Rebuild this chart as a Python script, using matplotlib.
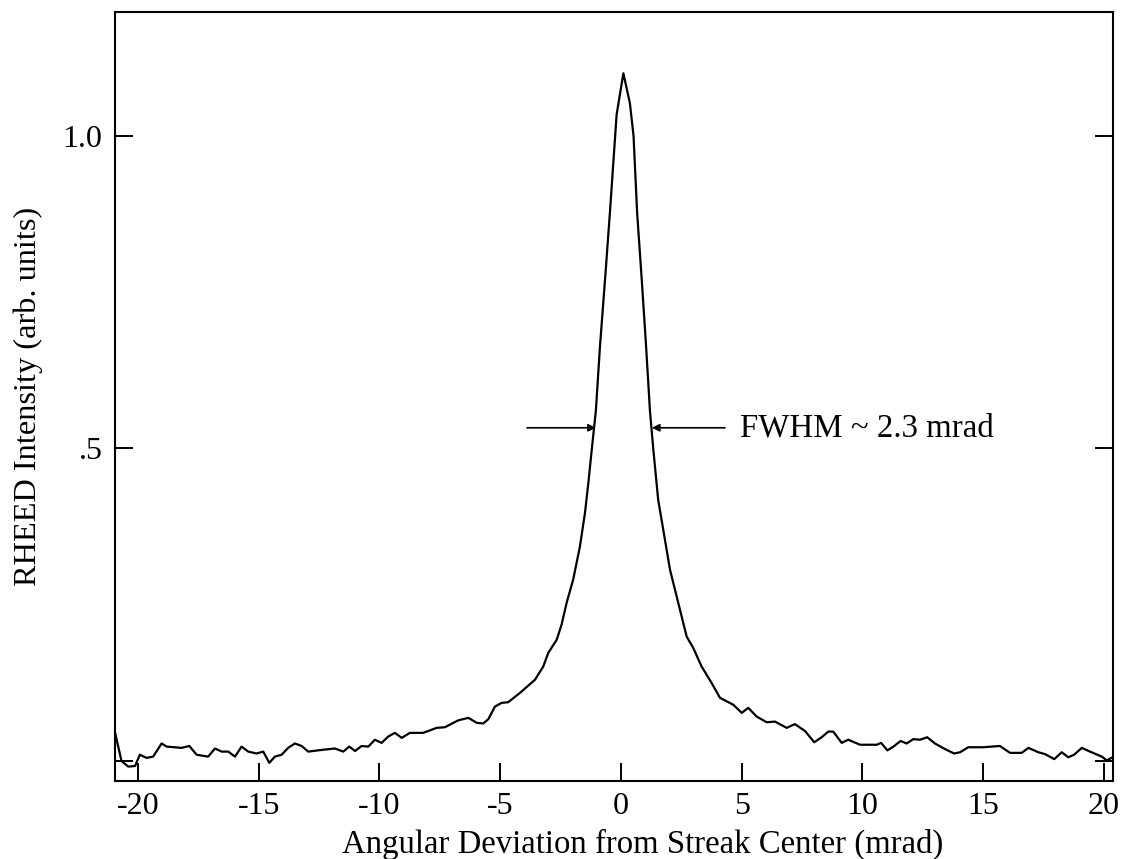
import matplotlib
matplotlib.use("Agg")
from matplotlib import pyplot as plt

# RHEED streak profile
angle = [-20.95, -20.68, -20.40, -20.12, -19.92, -19.64, -19.37, -19.02, -18.81, -18.19,
         -17.87, -17.57, -17.09, -16.81, -16.53, -16.26, -15.98, -15.71, -15.43, -15.09,
         -14.81, -14.56, -14.33, -14.05, -13.78, -13.50, -13.22, -12.95, -12.33, -11.84,
         -11.50, -11.25, -11.01, -10.74, -10.46, -10.19, -9.91, -9.64, -9.36, -9.08,
         -8.74, -8.19, -7.63, -7.29, -6.74, -6.32, -5.97, -5.70, -5.49, -5.22,
         -4.94, -4.67, -4.18, -3.56, -3.22, -3.01, -2.66, -2.46, -2.25, -1.98,
         -1.70, -1.49, -1.35, -1.21, -1.04, -0.87, -0.66, -0.46, -0.25, -0.18,
         0.10, 0.37, 0.52, 0.67, 0.86, 1.04, 1.20, 1.34, 1.54,
         1.75, 2.03, 2.37, 2.72, 2.99, 3.34, 3.75, 4.10, 4.65, 5.00,
         5.27, 5.62, 6.03, 6.38, 6.86, 7.20, 7.62, 8.00, 8.31, 8.58,
         8.79, 9.14, 9.41, 9.90, 10.59, 10.77, 11.03, 11.28, 11.58, 11.83,
         12.10, 12.38, 12.68, 13.00, 13.42, 13.79, 14.04, 14.38, 15.00, 15.69,
         16.11, 16.59, 16.87, 17.28, 17.56, 17.94, 18.25, 18.52, 18.76, 19.08,
         19.42, 19.91, 20.11, 20.36]
intensity = [0.046, 0.000, -0.009, -0.008, 0.010, 0.005, 0.007, 0.028, 0.023, 0.021,
             0.024, 0.010, 0.007, 0.020, 0.015, 0.015, 0.007, 0.023, 0.015, 0.012,
             0.015, -0.003, 0.007, 0.010, 0.021, 0.028, 0.024, 0.015, 0.018, 0.020,
             0.015, 0.023, 0.016, 0.024, 0.023, 0.034, 0.029, 0.039, 0.045, 0.037,
             0.045, 0.045, 0.053, 0.054, 0.065, 0.069, 0.061, 0.060, 0.067, 0.087,
             0.093, 0.094, 0.109, 0.130, 0.151, 0.173, 0.194, 0.218, 0.253, 0.290,
             0.343, 0.397, 0.445, 0.498, 0.560, 0.663, 0.770, 0.876, 0.994, 1.034,
             1.100, 1.052, 1.000, 0.876, 0.770, 0.663, 0.560, 0.498, 0.418,
             0.370, 0.306, 0.253, 0.199, 0.181, 0.151, 0.125, 0.101, 0.090, 0.077,
             0.085, 0.071, 0.062, 0.063, 0.053, 0.059, 0.048, 0.030, 0.038, 0.047,
             0.047, 0.029, 0.034, 0.026, 0.026, 0.029, 0.017, 0.023, 0.032, 0.028,
             0.035, 0.034, 0.038, 0.028, 0.019, 0.012, 0.014, 0.022, 0.022, 0.024,
             0.013, 0.013, 0.021, 0.014, 0.011, 0.003, 0.014, 0.006, 0.010, 0.021,
             0.015, 0.007, 0.001, 0.006]

x_ticks = [-20, -15, -10, -5, 0, 5, 10, 15, 20]
y_ticks = [0.0, 0.5, 1.0]
y_tick_labels = ["", ".5", "1.0"]
half_max = 0.533
fwhm_left = -1.04
fwhm_right = 1.28

plt.rcParams['font.family'] = ['Liberation Serif', 'DejaVu Serif']

fig = plt.figure(figsize=(11.25, 8.59), dpi=100)
ax = fig.add_axes([0.1022, 0.0908, 0.8871, 0.8952])
ax.plot(angle, intensity, c='black', lw=1.6)

# FWHM markers
ax.annotate("", xy=(fwhm_left, half_max), xytext=(-3.89, half_max),
            arrowprops=dict(arrowstyle='-|>', color='black', lw=1.2,
                            mutation_scale=11, shrinkA=0, shrinkB=0))
ax.annotate("", xy=(fwhm_right, half_max), xytext=(4.31, half_max),
            arrowprops=dict(arrowstyle='-|>', color='black', lw=1.2,
                            mutation_scale=11, shrinkA=0, shrinkB=0))
ax.text(4.93, half_max, "FWHM ~ 2.3 mrad", fontsize=23.7, va='center', ha='left')

ax.set_xlim(-20.95, 20.37)
ax.set_ylim(-0.032, 1.198)
ax.set_xticks(x_ticks)
ax.set_xticklabels([str(t) for t in x_ticks])
ax.set_yticks(y_ticks)
ax.set_yticklabels(y_tick_labels)
ax.tick_params(axis='both', which='major', direction='in', length=13, width=1.4,
               labelsize=23, right=True)
ax.tick_params(axis='x', pad=8)
ax.tick_params(axis='y', pad=9)
for s in ax.spines.values():
    s.set_linewidth(1.5)

ax.set_xlabel("Angular Deviation from Streak Center (mrad)", fontsize=23.6)
ax.xaxis.set_label_coords(0.529, -0.062)
ax.set_ylabel("RHEED Intensity (arb. units)", fontsize=23.3, labelpad=14)

fig.savefig("out.png", dpi=100)
